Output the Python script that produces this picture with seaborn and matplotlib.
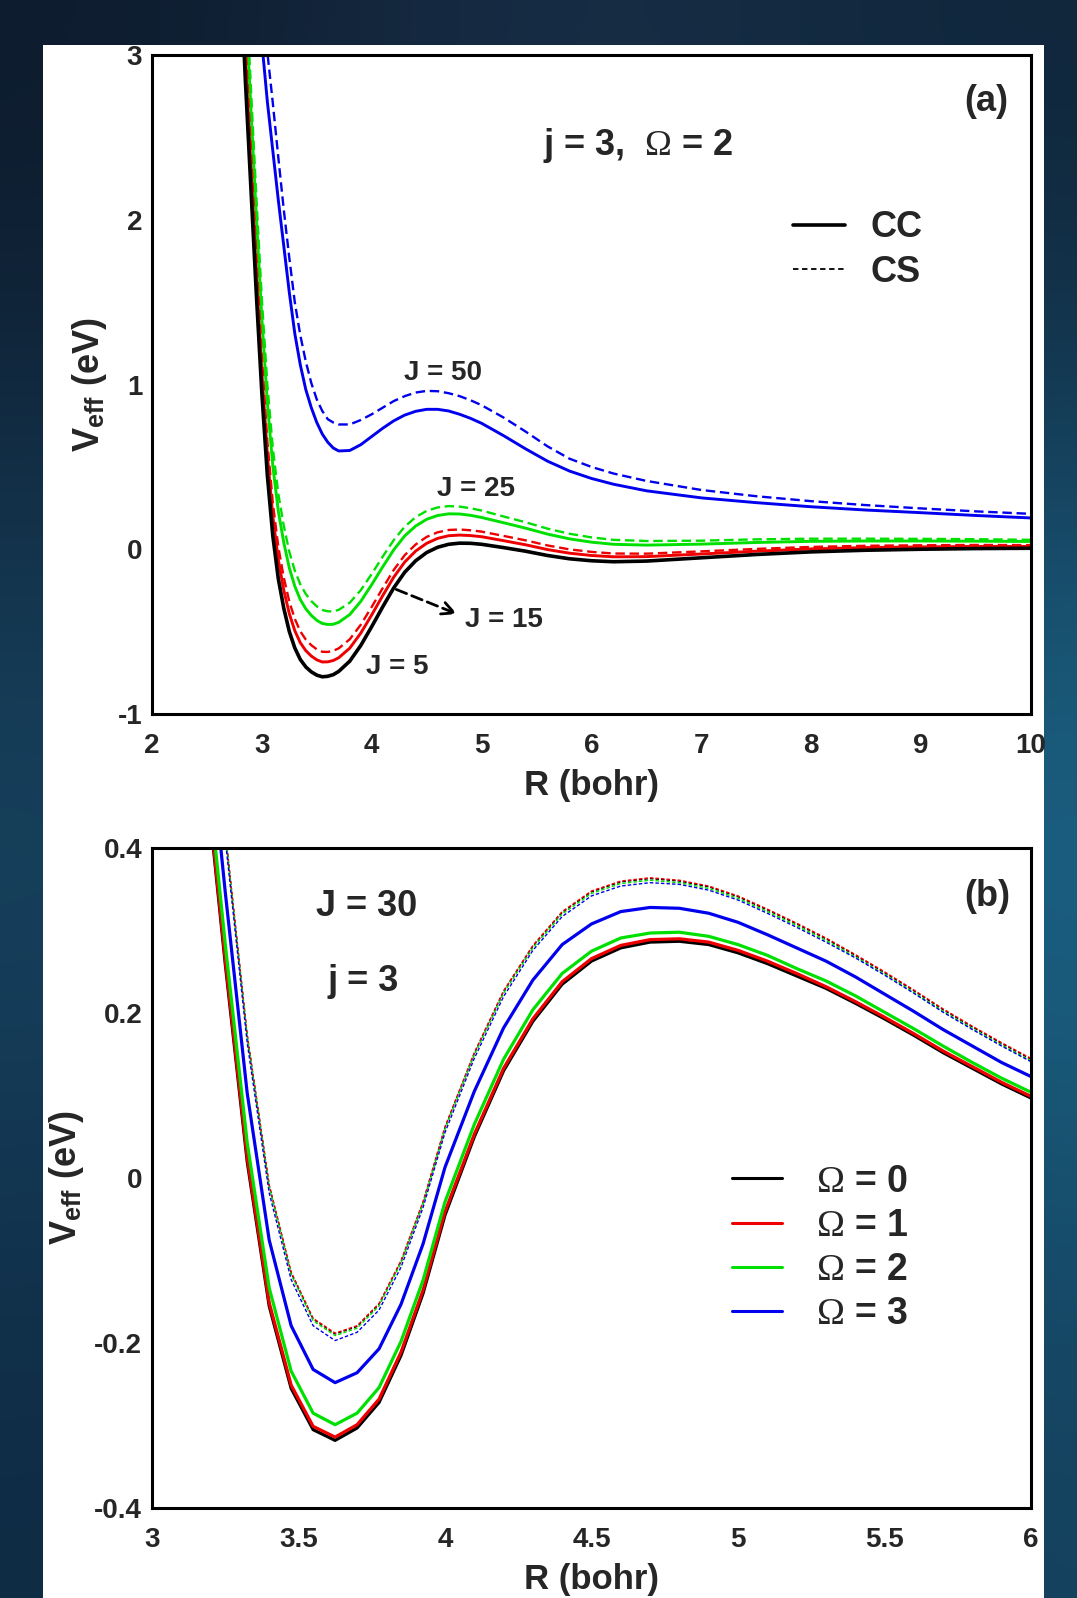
import numpy as np
import matplotlib
matplotlib.use("Agg")
import matplotlib.pyplot as plt
import seaborn as sns
from matplotlib.lines import Line2D
from matplotlib.patches import Rectangle
from matplotlib.ticker import MultipleLocator, FuncFormatter

# ==============================
# DATA  panel (a): j = 3, Omega = 2
# ==============================
R_a = [2.8, 2.85, 2.9, 2.95, 3.0, 3.05, 3.1, 3.15, 3.2, 3.25, 3.3, 3.35, 3.4, 3.45,
       3.5, 3.55, 3.6, 3.65, 3.7, 3.8, 3.9, 4.0, 4.1, 4.2, 4.3, 4.4, 4.5, 4.6, 4.7,
       4.8, 4.9, 5.0, 5.2, 5.4, 5.6, 5.8, 6.0, 6.2, 6.5, 7.0, 7.5, 8.0, 8.5, 9.0, 9.5, 10.0]

J5_CC = [3.60, 2.85, 2.20, 1.55, 0.95, 0.45, 0.08, -0.18, -0.36, -0.50, -0.60, -0.67, -0.715,
         -0.745, -0.765, -0.775, -0.772, -0.762, -0.742, -0.68, -0.585, -0.47, -0.35, -0.235,
         -0.14, -0.07, -0.02, 0.012, 0.03, 0.037, 0.036, 0.03, 0.01, -0.012, -0.038, -0.058,
         -0.07, -0.076, -0.072, -0.052, -0.032, -0.016, -0.006, 0.0, 0.004, 0.006]
J15_CC = [3.745, 2.99, 2.336, 1.681, 1.077, 0.573, 0.199, -0.065, -0.249, -0.392, -0.495, -0.568,
          -0.616, -0.649, -0.672, -0.685, -0.684, -0.676, -0.659, -0.601, -0.51, -0.399, -0.282,
          -0.17, -0.078, -0.011, 0.036, 0.066, 0.082, 0.086, 0.083, 0.076, 0.052, 0.027, -0.002,
          -0.024, -0.038, -0.046, -0.045, -0.029, -0.012, 0.002, 0.01, 0.014, 0.017, 0.017]
J15_CS = [3.845, 3.086, 2.429, 1.771, 1.164, 0.657, 0.28, 0.014, -0.173, -0.318, -0.423, -0.499,
          -0.549, -0.583, -0.608, -0.623, -0.624, -0.617, -0.602, -0.547, -0.459, -0.35, -0.236,
          -0.126, -0.036, 0.029, 0.075, 0.103, 0.117, 0.12, 0.115, 0.107, 0.081, 0.054, 0.023,
          -0.001, -0.016, -0.026, -0.027, -0.013, 0.002, 0.014, 0.021, 0.024, 0.026, 0.025]
J25_CC = [4.121, 3.352, 2.685, 2.019, 1.403, 0.889, 0.505, 0.231, 0.039, -0.114, -0.225, -0.306,
          -0.362, -0.402, -0.432, -0.451, -0.457, -0.456, -0.444, -0.397, -0.317, -0.215, -0.107,
          -0.004, 0.081, 0.141, 0.182, 0.205, 0.215, 0.214, 0.206, 0.193, 0.161, 0.128, 0.092,
          0.063, 0.043, 0.03, 0.025, 0.031, 0.041, 0.048, 0.05, 0.05, 0.049, 0.047]
J25_CS = [4.254, 3.48, 2.809, 2.139, 1.519, 1.001, 0.613, 0.336, 0.141, -0.016, -0.13, -0.213,
          -0.272, -0.315, -0.347, -0.369, -0.377, -0.378, -0.368, -0.325, -0.249, -0.15, -0.045,
          0.055, 0.137, 0.195, 0.233, 0.254, 0.262, 0.259, 0.249, 0.235, 0.199, 0.164, 0.125,
          0.094, 0.072, 0.057, 0.05, 0.052, 0.06, 0.064, 0.064, 0.063, 0.061, 0.057]
J50_CC = [5.0, 4.5, 4.0, 3.5, 3.08, 2.72, 2.42, 2.12, 1.84, 1.56, 1.31, 1.12, 0.97, 0.86, 0.77,
          0.70, 0.65, 0.615, 0.597, 0.60, 0.635, 0.685, 0.735, 0.78, 0.815, 0.838, 0.85, 0.85,
          0.84, 0.82, 0.795, 0.765, 0.69, 0.61, 0.535, 0.475, 0.43, 0.395, 0.355, 0.312, 0.283,
          0.258, 0.238, 0.222, 0.205, 0.19]
J50_CS = [5.5, 5.0, 4.5, 4.0, 3.45, 3.02, 2.71, 2.38, 2.06, 1.77, 1.50, 1.30, 1.14, 1.01, 0.91,
          0.84, 0.79, 0.77, 0.758, 0.758, 0.785, 0.82, 0.86, 0.90, 0.93, 0.952, 0.962, 0.96,
          0.948, 0.93, 0.905, 0.875, 0.80, 0.715, 0.625, 0.55, 0.50, 0.46, 0.415, 0.36, 0.322,
          0.292, 0.268, 0.248, 0.23, 0.215]

# ==============================
# DATA  panel (b): J = 30, j = 3
# ==============================
R_b = [3.175, 3.25, 3.325, 3.4, 3.475, 3.55, 3.625, 3.7, 3.775, 3.85, 3.925, 4.0, 4.1, 4.2,
       4.3, 4.4, 4.5, 4.6, 4.7, 4.8, 4.9, 5.0, 5.1, 5.2, 5.3, 5.4, 5.5, 5.6, 5.7, 5.8, 5.9, 6.0]

Om0_CC = [0.52, 0.26, 0.02, -0.155, -0.255, -0.305, -0.318, -0.303, -0.272, -0.215, -0.14, -0.045,
          0.05, 0.13, 0.19, 0.235, 0.263, 0.279, 0.286, 0.287, 0.283, 0.273, 0.26, 0.245, 0.23,
          0.212, 0.193, 0.173, 0.152, 0.133, 0.114, 0.097]
Om1_CC = [0.525, 0.265, 0.025, -0.151, -0.251, -0.301, -0.314, -0.299, -0.268, -0.211, -0.136,
          -0.041, 0.053, 0.133, 0.193, 0.238, 0.266, 0.282, 0.289, 0.290, 0.286, 0.276, 0.263,
          0.248, 0.232, 0.214, 0.195, 0.175, 0.154, 0.135, 0.116, 0.099]
Om2_CC = [0.545, 0.284, 0.043, -0.133, -0.234, -0.285, -0.299, -0.285, -0.254, -0.198, -0.124,
          -0.029, 0.065, 0.144, 0.204, 0.248, 0.275, 0.291, 0.297, 0.298, 0.293, 0.283, 0.270,
          0.254, 0.239, 0.221, 0.201, 0.181, 0.160, 0.140, 0.121, 0.104]
Om3_CC = [0.611, 0.347, 0.103, -0.075, -0.179, -0.232, -0.248, -0.236, -0.207, -0.153, -0.080,
          0.013, 0.105, 0.182, 0.240, 0.283, 0.308, 0.323, 0.328, 0.327, 0.321, 0.310, 0.295,
          0.279, 0.263, 0.244, 0.223, 0.202, 0.180, 0.160, 0.140, 0.123]
Om0_CS = [0.688, 0.42, 0.173, -0.009, -0.115, -0.171, -0.189, -0.18, -0.153, -0.101, -0.03, 0.061,
          0.151, 0.226, 0.281, 0.322, 0.347, 0.359, 0.363, 0.360, 0.353, 0.341, 0.325, 0.308,
          0.290, 0.270, 0.249, 0.227, 0.204, 0.183, 0.163, 0.144]
Om1_CS = [0.689, 0.421, 0.174, -0.008, -0.114, -0.170, -0.188, -0.179, -0.152, -0.100, -0.029,
          0.062, 0.152, 0.227, 0.282, 0.323, 0.348, 0.360, 0.364, 0.361, 0.354, 0.342, 0.326,
          0.309, 0.291, 0.271, 0.250, 0.228, 0.205, 0.184, 0.164, 0.145]
Om2_CS = [0.686, 0.418, 0.171, -0.011, -0.117, -0.173, -0.191, -0.182, -0.155, -0.103, -0.032,
          0.059, 0.149, 0.224, 0.279, 0.320, 0.345, 0.357, 0.361, 0.358, 0.351, 0.339, 0.323,
          0.306, 0.288, 0.268, 0.247, 0.225, 0.202, 0.181, 0.161, 0.142]
Om3_CS = [0.678, 0.411, 0.164, -0.018, -0.123, -0.179, -0.197, -0.187, -0.160, -0.108, -0.036,
          0.055, 0.145, 0.220, 0.276, 0.317, 0.342, 0.354, 0.358, 0.356, 0.349, 0.337, 0.321,
          0.304, 0.286, 0.267, 0.246, 0.224, 0.201, 0.180, 0.160, 0.141]

omega_labels = [r'$\Omega$ = 0', r'$\Omega$ = 1', r'$\Omega$ = 2', r'$\Omega$ = 3']
colors = ['black', '#ee0000', '#00e000', '#0000ee']

# ==============================
# STYLE
# ==============================
sns.set_theme(style='white')
FAM = ['Liberation Sans', 'DejaVu Sans']
plt.rcParams['font.family'] = FAM
plt.rcParams['font.weight'] = 'bold'
plt.rcParams['axes.unicode_minus'] = False
plt.rcParams['mathtext.fontset'] = 'custom'
plt.rcParams['mathtext.rm'] = 'Liberation Serif:normal'
plt.rcParams['mathtext.it'] = 'Liberation Serif:italic:normal'
plt.rcParams['mathtext.bf'] = 'Liberation Sans:bold'

fig = plt.figure(figsize=(10.77, 15.98), dpi=100)

# dark "space" backdrop and white page
bg = fig.add_axes([0, 0, 1, 1], zorder=-10)
bg_colors = np.array([
    [[0.05, 0.10, 0.17], [0.10, 0.19, 0.29], [0.06, 0.14, 0.22]],
    [[0.10, 0.30, 0.42], [0.08, 0.20, 0.30], [0.12, 0.45, 0.60]],
    [[0.06, 0.17, 0.27], [0.05, 0.12, 0.20], [0.08, 0.26, 0.37]],
])
bg.imshow(bg_colors, extent=[0, 1, 0, 1], aspect='auto', interpolation='bicubic')
bg.axis('off')
fig.add_artist(Rectangle((43 / 1077, 0), (1044 - 43) / 1077, (1598 - 45) / 1598,
                         transform=fig.transFigure, facecolor='white', edgecolor='none', zorder=-5))

ax_a = fig.add_axes([0.1411, 0.5533, 0.8162, 0.4120])
ax_b = fig.add_axes([0.1411, 0.0563, 0.8162, 0.4130])


def style_axes(ax, xmaj, xmin, ymaj, ymin):
    ax.xaxis.set_major_locator(MultipleLocator(xmaj))
    ax.xaxis.set_minor_locator(MultipleLocator(xmin))
    ax.yaxis.set_major_locator(MultipleLocator(ymaj))
    ax.yaxis.set_minor_locator(MultipleLocator(ymin))
    fmt = FuncFormatter(lambda v, p: '%g' % round(v, 3))
    ax.xaxis.set_major_formatter(fmt)
    ax.yaxis.set_major_formatter(fmt)
    ax.tick_params(which='both', direction='in', top=False, right=False, color='black',
                   width=1.5, labelsize=20)
    ax.tick_params(which='major', length=16)
    ax.tick_params(which='minor', length=10.5)
    ax.tick_params(axis='x', pad=14)
    ax.tick_params(axis='y', pad=7)
    for s in ax.spines.values():
        s.set_visible(True)
        s.set_linewidth(2.2)
        s.set_color('black')
    ax.set_facecolor('white')
    ax.set_xlabel('R (bohr)', fontsize=25, fontweight='bold', labelpad=7)
    ax.set_ylabel(r'V$_\mathbf{eff}$ (eV)', fontsize=26, fontweight='bold', labelpad=6)


# ==============================
# PANEL (a)
# ==============================
curves_a = [(J50_CC, J50_CS, colors[3]), (J25_CC, J25_CS, colors[2]),
            (J15_CC, J15_CS, colors[1])]
for cc, cs, c in curves_a:
    sns.lineplot(x=R_a, y=cs, color=c, lw=1.7, linestyle=(0, (4, 2)), errorbar=None, ax=ax_a)
    sns.lineplot(x=R_a, y=cc, color=c, lw=2.1, errorbar=None, ax=ax_a)
sns.lineplot(x=R_a, y=J5_CC, color='black', lw=2.6, errorbar=None, ax=ax_a)

ax_a.set_xlim(2, 10)
ax_a.set_ylim(-1, 3)
style_axes(ax_a, 1, 0.5, 1, 0.5)

ax_a.text(9.59, 2.72, '(a)', fontsize=26, fontweight='bold', ha='center', va='center')
ax_a.text(6.43, 2.45, r'j = 3,  $\Omega$ = 2', fontsize=26, fontweight='bold', ha='center', va='center')
ax_a.text(4.65, 1.07, 'J = 50', fontsize=20, fontweight='bold', ha='center', va='center')
ax_a.text(4.95, 0.364, 'J = 25', fontsize=20, fontweight='bold', ha='center', va='center')
ax_a.text(5.20, -0.43, 'J = 15', fontsize=20, fontweight='bold', ha='center', va='center')
ax_a.text(4.23, -0.714, 'J = 5', fontsize=20, fontweight='bold', ha='center', va='center')
ax_a.annotate('', xy=(4.80, -0.40), xytext=(4.20, -0.238),
              arrowprops=dict(arrowstyle='->', linestyle=(0, (4, 2)), lw=2, color='black',
                              mutation_scale=22))

leg_a = [Line2D([], [], color='black', lw=2.6),
         Line2D([], [], color='black', lw=1.3, linestyle=(0, (3, 2)))]
ax_a.legend(leg_a, ['CC', 'CS'], loc='upper left', bbox_to_anchor=(0.729, 0.765),
            frameon=False, prop={'family': FAM, 'weight': 'bold', 'size': 26},
            handlelength=1.45, handletextpad=0.7, labelspacing=0.27, borderpad=0, borderaxespad=0)

# ==============================
# PANEL (b)
# ==============================
cc_b = [Om0_CC, Om1_CC, Om2_CC, Om3_CC]
cs_b = [Om0_CS, Om1_CS, Om2_CS, Om3_CS]
for y, c in zip(cc_b, colors):
    sns.lineplot(x=R_b, y=y, color=c, lw=2.3, errorbar=None, ax=ax_b)
for y, c in zip(cs_b, colors):
    sns.lineplot(x=R_b, y=y, color=c, lw=1.0, linestyle=(0, (2.5, 1.5)), errorbar=None, ax=ax_b)

ax_b.set_xlim(3, 6)
ax_b.set_ylim(-0.4, 0.4)
style_axes(ax_b, 0.5, 0.25, 0.2, 0.1)

ax_b.text(5.85, 0.341, '(b)', fontsize=26, fontweight='bold', ha='center', va='center')
ax_b.text(3.733, 0.329, 'J = 30', fontsize=26, fontweight='bold', ha='center', va='center')
ax_b.text(3.72, 0.238, 'j = 3', fontsize=26, fontweight='bold', ha='center', va='center')

leg_b = [Line2D([], [], color=c, lw=2.2) for c in colors]
ax_b.legend(leg_b, omega_labels, loc='upper left', bbox_to_anchor=(0.66, 0.522),
            frameon=False, prop={'family': FAM, 'weight': 'bold', 'size': 27},
            handlelength=1.33, handletextpad=0.9, labelspacing=0.22, borderpad=0, borderaxespad=0)

fig.savefig('out.png', dpi=100, facecolor=fig.get_facecolor())
